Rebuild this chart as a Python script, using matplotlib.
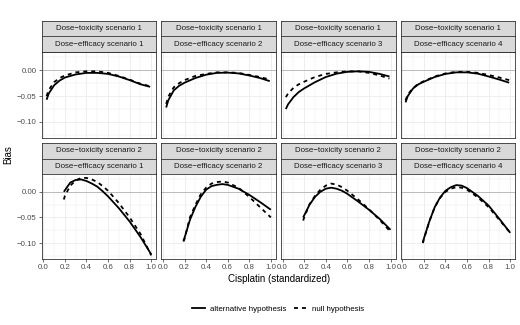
import matplotlib
matplotlib.use("Agg")
import matplotlib.pyplot as plt
import numpy as np

plt.rcParams['font.family'] = ['Liberation Sans', 'DejaVu Sans']

# dose grid (standardized cisplatin) for each row
x_top = [0.03, 0.05, 0.1, 0.15, 0.2, 0.3, 0.4, 0.5, 0.6, 0.7, 0.8, 0.9, 0.99]
x_bot = [0.19, 0.2, 0.25, 0.3, 0.35, 0.4, 0.45, 0.5, 0.55, 0.6, 0.7, 0.8, 0.9, 1.0]

tox_labels = ["Dose\u2212toxicity scenario 1", "Dose\u2212toxicity scenario 2"]
eff_labels = ["Dose\u2212efficacy scenario 1", "Dose\u2212efficacy scenario 2",
              "Dose\u2212efficacy scenario 3", "Dose\u2212efficacy scenario 4"]

# bias, alternative hypothesis
alt_top = [
    [-0.057, -0.045, -0.029, -0.020, -0.014, -0.008, -0.005, -0.005, -0.007, -0.012, -0.019, -0.027, -0.032],
    [-0.072, -0.058, -0.039, -0.030, -0.024, -0.015, -0.0085, -0.005, -0.0045, -0.006, -0.010, -0.015, -0.021],
    [-0.075, -0.066, -0.052, -0.042, -0.035, -0.023, -0.013, -0.0065, -0.003, -0.002, -0.003, -0.007, -0.012],
    [-0.062, -0.050, -0.035, -0.027, -0.022, -0.013, -0.007, -0.004, -0.004, -0.0065, -0.012, -0.018, -0.024],
]
# bias, null hypothesis
null_top = [
    [-0.050, -0.038, -0.023, -0.015, -0.010, -0.004, -0.002, -0.002, -0.005, -0.011, -0.018, -0.026, -0.031],
    [-0.065, -0.051, -0.033, -0.025, -0.019, -0.011, -0.007, -0.004, -0.004, -0.005, -0.009, -0.013, -0.018],
    [-0.052, -0.045, -0.034, -0.027, -0.022, -0.013, -0.007, -0.004, -0.002, -0.002, -0.005, -0.010, -0.016],
    [-0.058, -0.047, -0.034, -0.026, -0.021, -0.012, -0.006, -0.003, -0.003, -0.005, -0.009, -0.014, -0.019],
]
alt_bot = [
    [0.000, 0.003, 0.018, 0.023, 0.024, 0.021, 0.016, 0.010, 0.001, -0.009, -0.032, -0.058, -0.088, -0.122],
    [-0.095, -0.090, -0.055, -0.030, -0.010, 0.004, 0.011, 0.0135, 0.015, 0.0135, 0.006, -0.006, -0.020, -0.035],
    [-0.050, -0.046, -0.025, -0.010, 0.000, 0.006, 0.008, 0.006, 0.002, -0.004, -0.019, -0.035, -0.053, -0.074],
    [-0.099, -0.091, -0.058, -0.030, -0.011, 0.002, 0.009, 0.013, 0.012, 0.007, -0.008, -0.027, -0.053, -0.080],
]
null_bot = [
    [-0.015, -0.008, 0.012, 0.022, 0.027, 0.027, 0.024, 0.019, 0.011, 0.002, -0.022, -0.050, -0.082, -0.124],
    [-0.097, -0.092, -0.050, -0.026, -0.005, 0.008, 0.016, 0.019, 0.020, 0.018, 0.008, -0.010, -0.030, -0.050],
    [-0.056, -0.050, -0.024, -0.008, 0.004, 0.012, 0.016, 0.014, 0.009, 0.002, -0.015, -0.034, -0.055, -0.078],
    [-0.100, -0.092, -0.058, -0.030, -0.012, 0.000, 0.006, 0.009, 0.008, 0.004, -0.011, -0.030, -0.055, -0.080],
]

W, H = 520, 325
fig = plt.figure(figsize=(W / 100, H / 100), dpi=100)

def px(x0, y0, w, h):
    # pixel box (from top-left) -> figure fraction
    return [x0 / W, 1 - (y0 + h) / H, w / W, h / H]

col_left = [41.7, 161.3, 281.0, 400.7]
col_w = 114.5
rows = [(21.0, 51.7, 138.0), (143.3, 173.3, 259.0)]
strip_h = 15.4
small = 5.7
grey20 = '#333333'
lw = 1.3

for r, (strip_top, ptop, pbot) in enumerate(rows):
    xs = x_top if r == 0 else x_bot
    alts = alt_top if r == 0 else alt_bot
    nulls = null_top if r == 0 else null_bot
    for c in range(4):
        ax = fig.add_axes(px(col_left[c], ptop, col_w, pbot - ptop))
        ax.set_xlim(-0.015, 1.046)
        ax.set_ylim(-0.131, 0.036)
        ax.set_xticks(np.arange(0, 1.01, 0.2))
        ax.set_xticks(np.arange(0.1, 1.0, 0.2), minor=True)
        ax.set_yticks([-0.10, -0.05, 0.0])
        ax.set_yticks([-0.125, -0.075, -0.025, 0.025], minor=True)
        ax.grid(True, which='major', color='#ebebeb', lw=0.6)
        ax.grid(True, which='minor', color='#ebebeb', lw=0.35)
        ax.set_axisbelow(True)
        ax.axhline(0, color='#b3b3b3', lw=0.6, zorder=1)
        ax.plot(xs, alts[c], color='black', lw=lw, solid_capstyle='butt', zorder=3)
        ax.plot(xs, nulls[c], color='black', lw=lw, ls=(0, (2.2, 2.2)), zorder=3)
        for s in ax.spines.values():
            s.set_color(grey20)
            s.set_linewidth(0.6)
        ax.tick_params(which='major', length=2, width=0.5, color=grey20,
                       labelsize=small, labelcolor='#4d4d4d', pad=1.5)
        ax.tick_params(which='minor', length=0)
        if c == 0:
            ax.set_yticklabels(['\u22120.10', '\u22120.05', '0.00'])
        else:
            ax.tick_params(axis='y', labelleft=False, length=0)
        if r == 0:
            ax.tick_params(axis='x', labelbottom=False, length=0)
        else:
            ax.set_xticklabels(['0.0', '0.2', '0.4', '0.6', '0.8', '1.0'])

        # two strips: toxicity over efficacy
        for k, lab in enumerate([tox_labels[r], eff_labels[c]]):
            sax = fig.add_axes(px(col_left[c], strip_top + k * strip_h, col_w, strip_h))
            sax.set_facecolor('#d9d9d9')
            sax.set_xticks([])
            sax.set_yticks([])
            for s in sax.spines.values():
                s.set_color(grey20)
                s.set_linewidth(0.6)
            sax.text(0.5, 0.5, lab, ha='center', va='center', fontsize=small,
                     color='#1a1a1a', transform=sax.transAxes)

fig.text(278.6 / W, 1 - 279 / H, 'Cisplatin (standardized)', ha='center', va='center',
         fontsize=7.05)
fig.text(8 / W, 1 - 155 / H, 'Bias', ha='center', va='center', rotation=90, fontsize=7.05)

h1, = plt.plot([], [], color='black', lw=lw)
h2, = plt.plot([], [], color='black', lw=lw, ls=(0, (2.2, 2.2)))
fig.legend([h1, h2], ['alternative hypothesis', 'null hypothesis'], loc='center',
           bbox_to_anchor=(278 / W, 1 - 309 / H), ncol=2, frameon=False,
           fontsize=small, handlelength=1.6, handletextpad=0.6, columnspacing=1.0)

fig.savefig('out.png', dpi=100)
